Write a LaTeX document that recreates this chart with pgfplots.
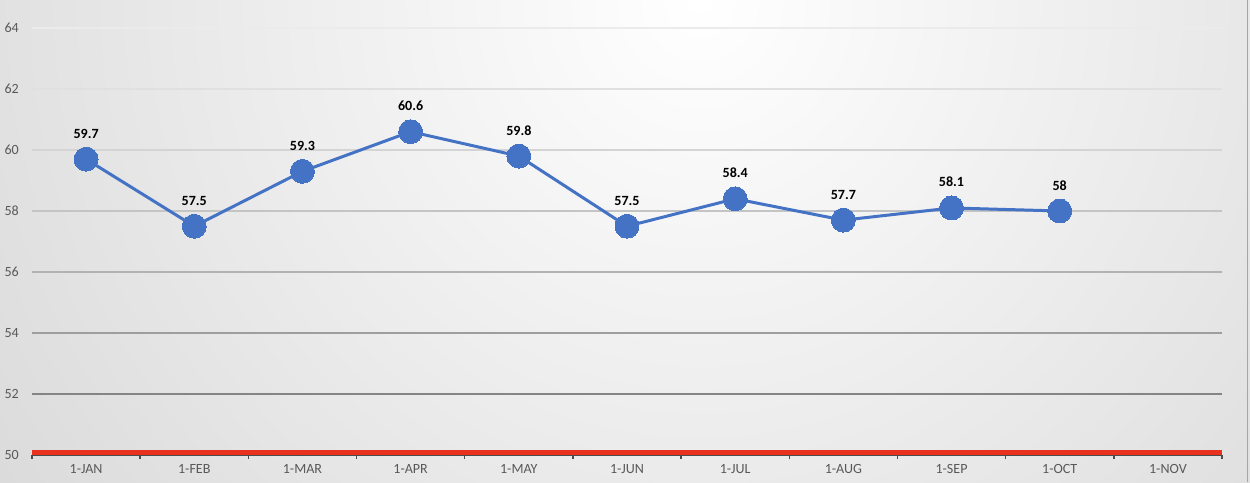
\documentclass[border=0pt]{standalone}
\usepackage{pgfplots}
\pgfplotsset{compat=1.18}
\usepackage{fontspec}
\setmainfont{Carlito}
\definecolor{lineblue}{HTML}{4472C4}
\definecolor{redline}{HTML}{E8321E}
\begin{document}
\begin{tikzpicture}
\useasboundingbox (0,0) rectangle (25,9.64);
\begin{scope}
\clip (0,0) rectangle (25,9.64);
\shade[inner color=white, outer color=black!30] (14-36,9.6-36) rectangle (14+36,9.6+36);
\draw[black!35, line width=0.6pt] (24.95,0) -- (24.95,9.64);
\end{scope}
\begin{axis}[
  at={(0.64cm,0.54cm)}, anchor=south west,
  scale only axis, width=23.8cm, height=8.54cm,
  xmin=-0.5, xmax=10.5, ymin=50, ymax=64,
  ytick={50,52,...,64},
  xtick={0,...,10},
  xticklabels={1-JAN,1-FEB,1-MAR,1-APR,1-MAY,1-JUN,1-JUL,1-AUG,1-SEP,1-OCT,1-NOV},
  minor xtick={-0.5,0.5,...,10.5},
  axis x line*=bottom, axis y line*=left,
  y axis line style={draw=none},
  x axis line style={black!70, line width=0.8pt},
  major tick length=0pt,
  minor tick length=0.08cm,
  tick align=outside,
  minor x tick style={black!70, line width=0.8pt},
  ytick style={draw=none},
  ticklabel style={font=\fontsize{8}{9}\selectfont, text=black!65},
  xticklabel style={yshift=-2pt},
  yticklabel style={xshift=-4pt},
  clip=false,
  /pgf/number format/assume math mode=true,
]
\draw[black!8,  line width=0.6pt] (axis cs:-0.5,64) -- (axis cs:10.5,64);
\draw[black!12, line width=0.6pt] (axis cs:-0.5,62) -- (axis cs:10.5,62);
\draw[black!17, line width=0.6pt] (axis cs:-0.5,60) -- (axis cs:10.5,60);
\draw[black!23, line width=0.6pt] (axis cs:-0.5,58) -- (axis cs:10.5,58);
\draw[black!30, line width=0.6pt] (axis cs:-0.5,56) -- (axis cs:10.5,56);
\draw[black!38, line width=0.6pt] (axis cs:-0.5,54) -- (axis cs:10.5,54);
\draw[black!48, line width=0.6pt] (axis cs:-0.5,52) -- (axis cs:10.5,52);
\addplot[redline, line width=2.8pt] coordinates {(-0.5,50.08) (10.5,50.08)};
\addplot[lineblue, line width=1.7pt, mark=*, mark size=6.8pt,
  mark options={fill=lineblue, draw=lineblue, line width=0pt},
  nodes near coords,
  every node near coord/.append style={font=\bfseries\fontsize{8}{9}\selectfont, text=black, anchor=south, yshift=0.3cm},
] coordinates {
(0,59.7) (1,57.5) (2,59.3) (3,60.6) (4,59.8) (5,57.5) (6,58.4) (7,57.7) (8,58.1) (9,58)
};
\end{axis}
\end{tikzpicture}
\end{document}
